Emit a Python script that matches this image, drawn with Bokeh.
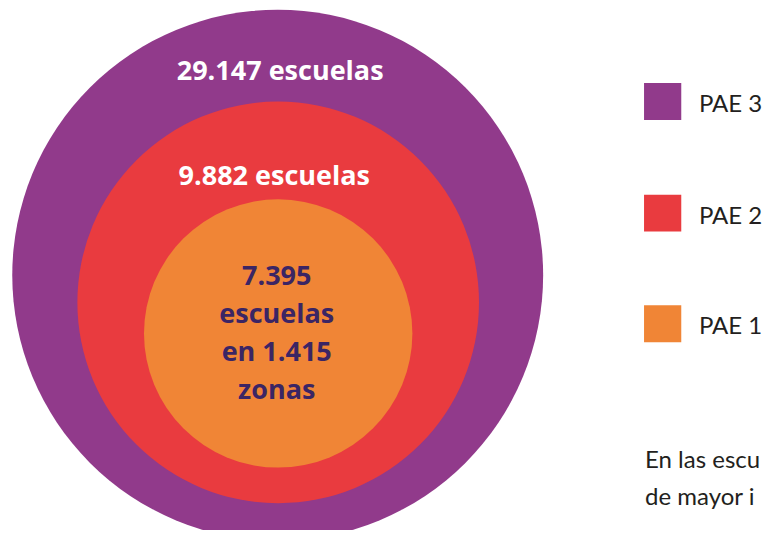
from bokeh.plotting import figure
from bokeh.models import Range1d, ColumnDataSource
from bokeh.core.properties import value
from bokeh.embed import file_html
from bokeh.resources import INLINE

# ---- data ----
categories = ["PAE 3", "PAE 2", "PAE 1"]
escuelas = [29147, 9882, 7395]
zonas_pae1 = 1415
note_lines = ["En las escu", "de mayor i"]

# ---- styles / layout (reference pixel coordinates) ----
colors = ["#913A8B", "#E93B3F", "#F08536"]
dark = "#3B2564"
circle_cx = [283, 283.5, 283.5]
circle_cy = [283, 311, 343]
circle_r = [271, 205, 137]
DY = -11  # baseline correction for svg text rendering

def fmt(n):
    return f"{n:,}".replace(",", ".")

W, H = 765, 530
p = figure(width=W, height=H, x_range=Range1d(0, 781), y_range=Range1d(546, 0),
           output_backend="svg", toolbar_location=None, min_border=0,
           x_axis_location=None, y_axis_location=None)
p.grid.visible = False
p.outline_line_color = None
p.background_fill_color = "white"
p.border_fill_color = "white"

src = ColumnDataSource(dict(x=circle_cx, y=circle_cy, r=circle_r, c=colors))
p.circle(x="x", y="y", radius="r", fill_color="c", line_color=None, source=src)

# labels on the outer rings
p.text(x=[285.5, 279.5], y=[82.5 + DY, 190 + DY],
       text=[f"{fmt(escuelas[0])} escuelas", f"{fmt(escuelas[1])} escuelas"],
       text_font=value("Open Sans"), text_font_style="bold", text_font_size="27px",
       text_align="center", text_baseline="alphabetic", text_color="white")

# inner circle label
inner = [fmt(escuelas[2]), "escuelas", f"en {fmt(zonas_pae1)}", "zonas"]
p.text(x=[282] * 4, y=[y + DY for y in (294, 332, 372, 411)], text=inner,
       text_font=value("Open Sans"), text_font_style="bold", text_font_size="27px",
       text_align="center", text_baseline="alphabetic", text_color=dark)

# legend
leg_y = [104, 219, 333]
p.rect(x=[676] * 3, y=leg_y, width=38, height=38, fill_color=colors, line_color=None)
p.text(x=[713] * 3, y=[y + 12 + DY for y in leg_y], text=categories,
       text_font=value("Lato"), text_font_size="24px",
       text_align="left", text_baseline="alphabetic", text_color="#231F20")

# note text (cut by the edge in the reference)
p.text(x=[658, 658], y=[483 + DY, 521 + DY], text=note_lines,
       text_font=value("Lato"), text_font_size="24px",
       text_align="left", text_baseline="alphabetic", text_color="#231F20")

open("out.html", "w").write(file_html(p, INLINE))
